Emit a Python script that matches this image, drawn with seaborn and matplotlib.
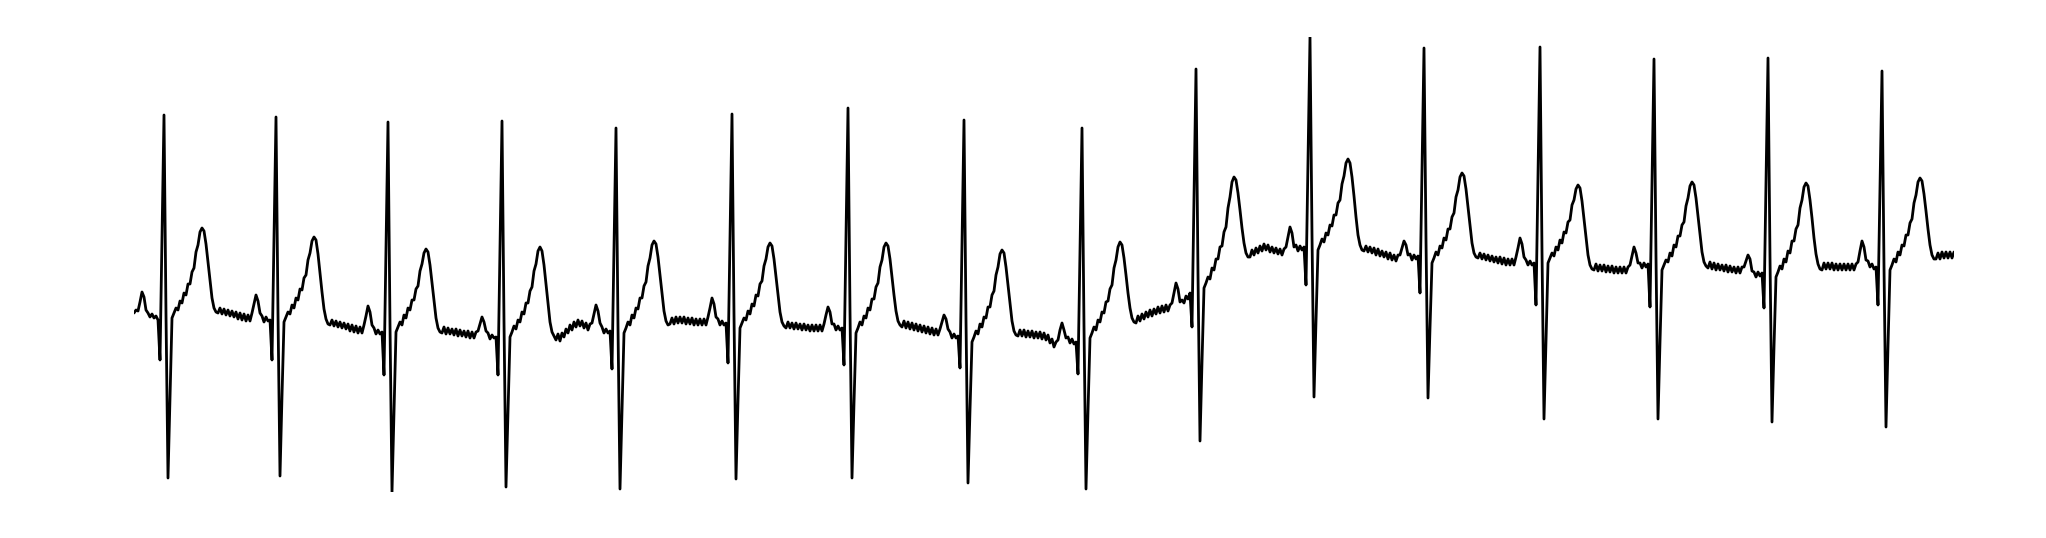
import numpy as np
import pandas as pd
import seaborn as sns
import matplotlib
matplotlib.use("Agg")
import matplotlib.pyplot as plt

# ECG trace, one value per sample, in units of 0.01 mV
fs = 250  # samples per second

lead_in = [-13, -10, -11, -2, 8, 3, -10, -13, -17, -14, -18, -16, -20, -60, 62]

beat_01 = [185, -15, -178, -96, -18, -13, -8, -10, -1, -3, 7, 5, 16, 16, 28, 32, 48, 55, 68, 72, 69, 56, 38, 19, 2, -8, -12,
           -13, -8, -14, -9, -15, -10, -16, -11, -17, -12, -19, -13, -20, -14, -21,
           -15, -21, -13, -4, 5, -1, -13, -16, -22, -17, -21, -20, -60, 61]
beat_02 = [183, -14, -176, -96, -22, -17, -12, -14, -5, -8, 2, 0, 11, 10, 22, 25, 40, 47, 59, 63, 60, 46, 27, 8, -9, -19, -24,
           -25, -20, -26, -21, -27, -22, -28, -23, -29, -24, -31, -25, -32, -26, -33,
           -27, -33, -25, -16, -6, -12, -25, -28, -34, -30, -34, -32, -75, 52]
beat_03 = [178, -25, -192, -110, -32, -27, -22, -25, -15, -18, -8, -10, 0, 0, 11, 14, 29, 36, 47, 51, 48, 35, 17, -2, -18, -28, -32,
           -33, -27, -34, -28, -34, -29, -35, -29, -36, -30, -36, -31, -37, -31, -38, -32,
           -38, -32, -31, -24, -17, -22, -31, -33, -39, -35, -38, -37, -75, 52]
beat_04 = [179, -22, -187, -110, -37, -32, -26, -29, -20, -22, -12, -14, -3, -3, 9, 13, 29, 36, 49, 53, 49, 35, 16, -4, -22, -32, -36,
           -40, -34, -41, -33, -37, -29, -33, -25, -30, -22, -27, -20, -26, -21, -28, -23,
           -30, -24, -23, -14, -5, -11, -23, -27, -33, -29, -33, -31, -69, 51]
beat_05 = [172, -27, -189, -109, -33, -28, -22, -25, -15, -18, -8, -9, 2, 2, 14, 18, 34, 42, 55, 59, 56, 43, 25, 6, -11, -21, -25,
           -24, -18, -24, -17, -23, -17, -23, -17, -24, -18, -24, -18, -25, -19, -25, -19, -25,
           -19, -25, -17, -8, 2, -4, -17, -19, -25, -21, -25, -23, -63, 61]
beat_06 = [186, -15, -179, -101, -28, -23, -18, -20, -11, -14, -4, -6, 5, 4, 16, 19, 34, 41, 53, 57, 54, 41, 23, 4, -12, -22, -26,
           -28, -22, -28, -23, -29, -23, -29, -24, -30, -24, -30, -25, -31, -25, -31, -25, -31,
           -25, -31, -24, -15, -7, -12, -24, -24, -30, -26, -30, -28, -65, 63]
beat_07 = [192, -11, -178, -103, -33, -28, -22, -25, -16, -18, -8, -10, 1, 1, 13, 17, 33, 40, 53, 57, 54, 41, 23, 5, -11, -21, -25,
           -27, -21, -28, -22, -29, -23, -30, -24, -31, -25, -32, -26, -33, -27, -34, -28, -35,
           -29, -35, -29, -22, -15, -19, -29, -32, -38, -34, -38, -36, -68, 56]
beat_08 = [180, -20, -183, -110, -42, -37, -31, -34, -24, -27, -17, -18, -7, -7, 5, 9, 25, 33, 46, 50, 47, 33, 15, -4, -21, -31, -35,
           -36, -30, -36, -30, -37, -31, -37, -31, -38, -32, -38, -32, -39, -33, -40, -35, -43, -39,
           -47, -42, -40, -30, -23, -30, -38, -37, -43, -39, -44, -42, -74, 49]
beat_09 = [172, -27, -189, -111, -38, -33, -27, -30, -20, -22, -12, -13, -2, -1, 11, 15, 32, 40, 53, 58, 55, 42, 25, 7, -8, -18, -22,
           -23, -16, -21, -14, -19, -12, -17, -10, -16, -9, -14, -7, -13, -6, -12, -5,
           -11, -5, -3, 7, 17, 11, -2, 0, -3, 4, 1, 7, -27, 102]
beat_10 = [231, 26, -141, -62, 12, 17, 23, 21, 32, 30, 41, 41, 53, 54, 68, 73, 92, 103, 118, 123, 120, 107, 90, 72, 57, 47, 43,
           43, 50, 45, 52, 47, 54, 49, 56, 50, 55, 48, 53, 47, 52, 46, 51,
           45, 51, 53, 63, 73, 67, 53, 55, 49, 54, 50, 53, 15, 139]
beat_11 = [263, 65, -97, -21, 50, 55, 61, 58, 67, 65, 75, 74, 85, 85, 97, 100, 116, 124, 137, 141, 137, 123, 104, 83, 65, 55, 50,
           49, 54, 48, 53, 47, 52, 45, 51, 44, 49, 43, 48, 41, 47, 40, 45,
           39, 45, 45, 52, 59, 55, 45, 46, 40, 45, 41, 44, 7, 130]
beat_12 = [252, 60, -98, -28, 37, 42, 48, 45, 54, 52, 62, 60, 71, 71, 83, 87, 103, 110, 123, 127, 124, 111, 93, 74, 57, 47, 43,
           42, 47, 41, 46, 40, 45, 39, 44, 38, 43, 37, 43, 36, 42, 35, 41, 35,
           41, 35, 43, 52, 62, 56, 43, 40, 35, 39, 35, 37, -5, 124]
beat_13 = [253, 48, -119, -39, 37, 42, 47, 44, 53, 50, 60, 57, 68, 67, 78, 80, 95, 100, 111, 115, 112, 99, 81, 62, 45, 35, 31,
           30, 36, 29, 35, 29, 35, 28, 34, 28, 34, 27, 33, 27, 33, 27, 33,
           27, 33, 35, 44, 53, 47, 37, 37, 32, 37, 33, 36, -7, 117]
beat_14 = [241, 43, -119, -42, 30, 35, 40, 38, 47, 44, 55, 53, 64, 64, 75, 78, 94, 102, 114, 118, 115, 102, 84, 65, 48, 38, 34,
           32, 38, 31, 37, 30, 36, 30, 35, 29, 35, 28, 34, 28, 33, 27, 33,
           27, 33, 33, 39, 45, 41, 29, 28, 23, 28, 24, 27, -8, 117]
beat_15 = [242, 42, -122, -47, 23, 28, 34, 31, 41, 38, 49, 47, 59, 59, 71, 75, 92, 100, 113, 117, 114, 100, 82, 62, 46, 36, 31,
           30, 37, 31, 37, 31, 37, 30, 36, 30, 36, 30, 36, 30, 36, 30, 36,
           30, 36, 38, 49, 59, 53, 40, 39, 33, 36, 31, 33, -5, 112]
beat_16 = [229, 33, -127, -46, 30, 35, 41, 38, 48, 45, 55, 54, 65, 65, 77, 81, 97, 105, 118, 122, 119, 106, 89, 71, 55, 45, 41,
           41, 47, 41, 48, 42, 48, 42, 48, 42, 48]

beats = [lead_in, beat_01, beat_02, beat_03, beat_04, beat_05, beat_06, beat_07, beat_08,
         beat_09, beat_10, beat_11, beat_12, beat_13, beat_14, beat_15, beat_16]

ecg = np.concatenate([np.asarray(b, dtype=float) for b in beats]) / 100.0  # mV
df = pd.DataFrame({"time": np.arange(len(ecg)) / fs, "mV": ecg})

sns.set_style("white")
fig = plt.figure(figsize=(20.46, 5.38), dpi=100)
ax = fig.add_axes([134 / 2046, 46 / 538, 1820 / 2046, 455 / 538])
sns.lineplot(data=df, x="time", y="mV", color="black", linewidth=2.0,
             estimator=None, sort=False, ax=ax)
ax.set_xlim(df["time"].min(), df["time"].max())
ax.set_ylim(df["mV"].min(), df["mV"].max())
ax.set_axis_off()

fig.savefig("out.png", dpi=100)
